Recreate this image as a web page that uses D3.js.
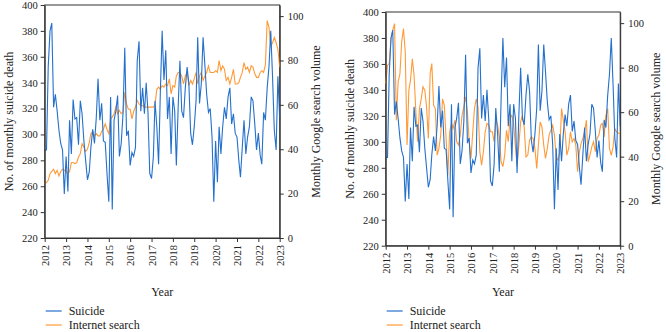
<!DOCTYPE html>
<html>
<head>
<meta charset="utf-8">
<script src="https://cdn.jsdelivr.net/npm/d3@7/dist/d3.min.js"></script>
<style>
  body { margin: 0; background: #fff; }
  svg text { font-family: "Liberation Serif", "DejaVu Serif", serif; fill: #222; }
</style>
</head>
<body>
<svg id="chart" width="666" height="332"></svg>
<script>
// monthly values, Jan 2012 .. Jan 2023
var suicide = [
  288, 288, 352, 380, 386, 321, 331, 318, 303, 293, 288, 254,
  283, 256, 311, 285, 327, 312, 313, 292, 326, 316, 295, 280,
  265, 271, 290, 304, 293, 313, 343, 311, 324, 295, 294, 270,
  248, 329, 242, 311, 318, 330, 283, 293, 316, 367, 299, 303,
  276, 286, 283, 290, 357, 372, 318, 336, 316, 340, 317, 270,
  266, 283, 326, 306, 277, 334, 380, 342, 365, 312, 329, 285,
  329, 318, 276, 321, 357, 318, 313, 336, 352, 339, 301, 292,
  306, 326, 375, 324, 339, 375, 354, 331, 317, 320, 298, 248,
  295, 263, 306, 285, 306, 321, 312, 329, 336, 308, 316, 301,
  298, 280, 267, 290, 311, 285, 298, 306, 329, 326, 308, 288,
  301, 284, 277, 317, 311, 336, 352, 380, 344, 303, 288, 345,
  312
];

var searchRaw = [
  24.5, 25, 26, 29, 30, 31, 29, 30.5, 28, 30, 31, 30.5,
  30, 29, 30, 34, 34, 33.5, 34, 36.5, 38, 42.5, 41, 39,
  40, 43, 47, 48, 46, 47, 46, 46, 48, 49, 51.5, 49,
  47, 53.7, 54.5, 56, 59, 56, 57.5, 56, 56.7, 65.7, 60.4, 58,
  58, 53.7, 57, 59, 62, 60.4, 59.7, 59.7, 59, 59, 59, 59,
  59, 59, 60, 67, 68, 67, 68.7, 68, 69.4, 68.7, 71.7, 65,
  68.7, 68, 73, 74.6, 74.6, 73, 69.4, 73, 74.6, 68.7, 71, 69.4,
  71.7, 74.6, 69.4, 73, 74.6, 71, 73, 74.6, 77.6, 74.6, 74.6, 74.6,
  75.4, 74.6, 80, 75.4, 77.6, 76, 71, 72.4, 69.4, 72.4, 76, 69.4,
  69.4, 70, 72.4, 74.6, 79, 76, 77, 74.6, 77.6, 77, 74, 72.4,
  72.4, 74.6, 75.4, 74.6, 78, 98, 95, 86.5, 88, 90.4, 88, 85,
  77
];

var searchAdj = [
  72.9, 81, 81.8, 93, 96.8, 99.8, 56.4, 73.6, 77.3, 91.6, 97.5, 87,
  45.2, 69.9, 74.4, 84, 76.6, 60, 46.7, 61.6, 66, 71.4, 69.9, 62.4,
  48.2, 77.3, 81.8, 63.1, 61.6, 40.7, 43.7, 49.7, 66, 63.1, 48.2, 31.7,
  51.2, 54.9, 52.7, 56.4, 46.7, 45.2, 49.7, 58.6, 62.4, 66.9, 60, 46.7,
  39.2, 51.2, 61.6, 66, 62.4, 42.2, 36.2, 42.2, 51.2, 54.9, 54.2, 51.2,
  51.2, 46.7, 57.1, 54.2, 48.9, 37.7, 35.5, 40.7, 51.9, 46.7, 57.1, 58.6,
  54.9, 44.4, 36.2, 45.2, 55.6, 58.6, 53.4, 39.9, 40.7, 47.4, 48.9, 48.2,
  43.7, 34.7, 45.2, 55.6, 53.4, 45.2, 39.2, 43.7, 49.7, 51.9, 54.2, 49.7,
  39.9, 38.4, 42.2, 61.6, 56.4, 51.2, 40.7, 43.7, 51.2, 46.7, 48.2, 45.2,
  33.2, 42.2, 45.9, 48.2, 51.2, 56.4, 37.7, 40.7, 44.4, 46.7, 42.2, 48.2,
  49.7, 54.2, 54.9, 48.9, 58.6, 61.6, 43.7, 40.6, 44.4, 52.6, 51.1, 50.4,
  50.4
];

var yearTicks = d3.range(2012, 2024);
var leftTicks = d3.range(220, 401, 20);
var rightTicks = [0, 20, 40, 60, 80, 100];
var legendLabels = ["Suicide", "Internet search"];

var blue = "#2470cc";
var orange = "#ff9a38";
var axisColor = "#333";

var svg = d3.select("#chart");
var months = suicide.map(function (d, i) { return new Date(2012, i, 1); });

function drawPanel(left, right, top, bottom, search) {
  var g = svg.append("g");

  var x = d3.scaleTime()
    .domain([new Date(2012, 0, 1), new Date(2023, 0, 1)])
    .range([left, right]);
  var yL = d3.scaleLinear().domain([220, 400]).range([bottom, top]);
  var yR = d3.scaleLinear().domain([0, 105]).range([bottom, top]);

  // frame
  g.append("rect")
    .attr("x", left).attr("y", top)
    .attr("width", right - left).attr("height", bottom - top)
    .attr("fill", "none").attr("stroke", axisColor).attr("stroke-width", 1);

  var lineL = d3.line()
    .x(function (d, i) { return x(months[i]); })
    .y(function (d) { return yL(d); });
  var lineR = d3.line()
    .x(function (d, i) { return x(months[i]); })
    .y(function (d) { return yR(d); });

  g.append("path").datum(search)
    .attr("d", lineR).attr("fill", "none")
    .attr("stroke", orange).attr("stroke-width", 1.1);
  g.append("path").datum(suicide)
    .attr("d", lineL).attr("fill", "none")
    .attr("stroke", blue).attr("stroke-width", 1.1);

  var axL = g.append("g")
    .attr("transform", "translate(" + left + ",0)")
    .call(d3.axisLeft(yL).tickValues(leftTicks).tickSize(4).tickSizeOuter(0).tickPadding(3));
  var axR = g.append("g")
    .attr("transform", "translate(" + right + ",0)")
    .call(d3.axisRight(yR).tickValues(rightTicks).tickSize(4).tickSizeOuter(0).tickPadding(4));
  var axB = g.append("g")
    .attr("transform", "translate(0," + bottom + ")")
    .call(d3.axisBottom(x)
      .tickValues(yearTicks.map(function (y) { return new Date(y, 0, 1); }))
      .tickFormat(d3.timeFormat("%Y"))
      .tickSize(4).tickSizeOuter(0));

  axB.selectAll("text")
    .attr("transform", "rotate(-90)")
    .attr("text-anchor", "end")
    .attr("x", -7).attr("y", 0).attr("dy", "0.35em");

  [axL, axR, axB].forEach(function (a) {
    a.selectAll("path, line").attr("stroke", axisColor);
    a.selectAll("text").style("font-size", "10.5px").attr("fill", "#222");
  });

  var midY = (top + bottom) / 2;
  g.append("text")
    .attr("transform", "translate(" + (left - 36) + "," + midY + ") rotate(-90)")
    .attr("text-anchor", "middle").attr("dy", "0.35em")
    .style("font-size", "12px")
    .text("No. of monthly suicide death");
  g.append("text")
    .attr("transform", "translate(" + (right + 36) + "," + midY + ") rotate(-90)")
    .attr("text-anchor", "middle").attr("dy", "0.35em")
    .style("font-size", "12px")
    .text("Monthly Google search volume");

  g.append("text")
    .attr("x", (left + right) / 2).attr("y", 296)
    .attr("text-anchor", "middle")
    .style("font-size", "12px")
    .text("Year");

  var leg = g.append("g").attr("transform", "translate(" + left + ",0)");
  legendLabels.forEach(function (name, i) {
    var ly = 311 + i * 14;
    leg.append("line")
      .attr("x1", 1).attr("x2", 17).attr("y1", ly).attr("y2", ly)
      .attr("stroke", i === 0 ? blue : orange).attr("stroke-width", 1.2);
    leg.append("text")
      .attr("x", 24).attr("y", ly).attr("dy", "0.35em")
      .style("font-size", "12px")
      .text(name);
  });
}

drawPanel(44.7, 279.7, 5, 238, searchRaw);
drawPanel(385.7, 620.2, 12, 245.7, searchAdj);
</script>
</body>
</html>
